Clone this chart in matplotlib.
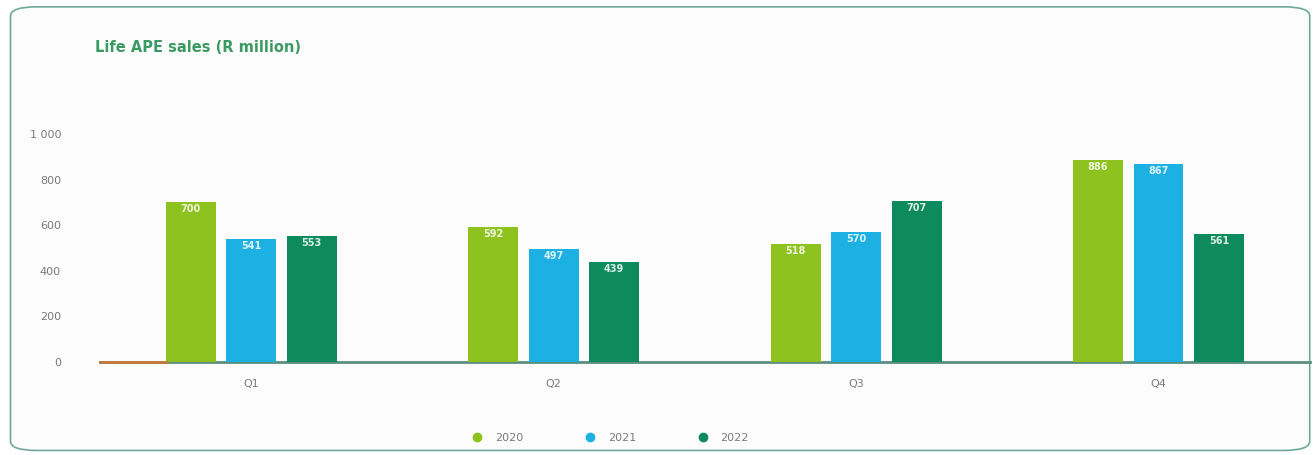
import matplotlib.pyplot as plt
import numpy as np
from matplotlib.patches import FancyBboxPatch

quarters = ["Q1", "Q2", "Q3", "Q4"]
years = ["2020", "2021", "2022"]
sales_2020 = [700, 592, 518, 886]
sales_2021 = [541, 497, 570, 867]
sales_2022 = [553, 439, 707, 561]
colors = ["#8dc21f", "#1cb1e2", "#0e8a5f"]

fig = plt.figure(figsize=(13.15, 4.55), dpi=100)
fig.patch.set_facecolor("white")
fig.patches.append(FancyBboxPatch((0.008, 0.01), 0.988, 0.975, boxstyle="round,pad=0,rounding_size=0.02",
                                  transform=fig.transFigure, facecolor="#fbfcfb", edgecolor="#6fa89a",
                                  linewidth=1.2, zorder=-1))

ax = fig.add_axes([0.076, 0.2044, 0.92, 0.501])
ax.set_facecolor("none")

x = np.arange(len(quarters))
w = 0.165
for i, (vals, c, yr) in enumerate(zip([sales_2020, sales_2021, sales_2022], colors, years)):
    pos = x + (i - 1) * 0.2
    bars = ax.bar(pos, vals, width=w, color=c, label=yr, zorder=3)
    for b, v in zip(bars, vals):
        ax.text(b.get_x() + b.get_width() / 2, v - 30, str(v), ha="center", va="center",
                color="white", fontsize=7, fontweight="bold", alpha=0.85, zorder=4)

ax.set_xlim(-0.5, 3.5)
ax.set_ylim(0, 1000)
ax.set_yticks([0, 200, 400, 600, 800, 1000])
ax.set_yticklabels(["0", "200", "400", "600", "800", "1 000"])
ax.set_xticks(x)
ax.set_xticklabels(quarters)
ax.tick_params(axis="both", length=0, labelsize=8, colors="#7a7a7a")
ax.tick_params(axis="x", pad=12)
ax.tick_params(axis="y", pad=28)
for s in ["top", "right", "left"]:
    ax.spines[s].set_visible(False)
ax.spines["bottom"].set_color("#5a8f7f")
ax.spines["bottom"].set_linewidth(2)
ax.plot([-0.5, -0.28], [0, 0], color="#c8783a", lw=2, zorder=4, clip_on=False)

fig.text(0.072, 0.895, "Life APE sales (R million)", fontsize=10.5, color="#3a9a62",
         fontweight="bold", ha="left", va="center")

leg = fig.legend(loc="center", bbox_to_anchor=(0.462, 0.037), ncol=3, frameon=False,
                 handles=[plt.Line2D([], [], marker="o", ls="", color=c, markersize=6) for c in colors],
                 labels=years, fontsize=8, columnspacing=5, handletextpad=0.6)
for t in leg.get_texts():
    t.set_color("#7a7a7a")

fig.savefig("out.png", dpi=100)
